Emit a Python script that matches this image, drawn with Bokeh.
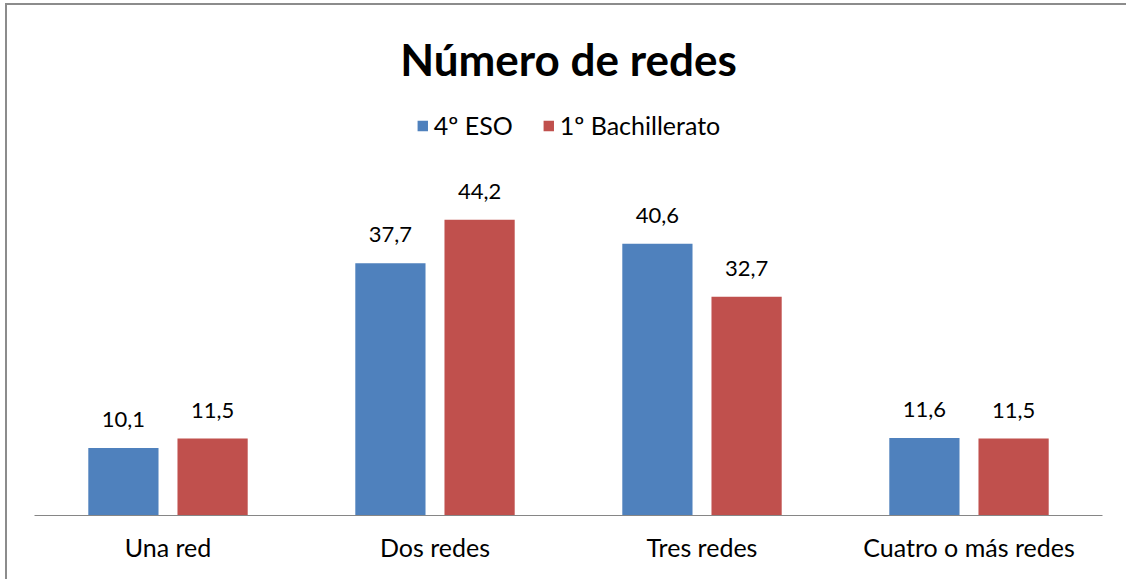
from bokeh.plotting import figure
from bokeh.models import ColumnDataSource, FactorRange, Range1d, Legend, LegendItem
from bokeh.transform import dodge
from bokeh.embed import file_html
from bokeh.resources import INLINE
from bokeh.core.properties import value

# ---- data ----
categories = ["Una red", "Dos redes", "Tres redes", "Cuatro o más redes"]
eso = [10.1, 37.7, 40.6, 11.6]
bach = [11.5, 44.2, 32.7, 11.5]
series_names = ["4º ESO", "1º Bachillerato"]
colors = ["#4F81BD", "#C0504D"]
title_text = "Número de redes"

FONT = "Lato"

def fmt(v):
    return f"{v:.1f}".replace(".", ",")

src = ColumnDataSource(dict(
    cat=categories,
    eso=eso,
    bach=bach,
    eso_lbl=[fmt(v) for v in eso],
    bach_lbl=[fmt(v) for v in bach],
))

# ---- layout (page pixels) ----
bx, by = 5, 3          # outer border position on page
bwid = 2
ox, oy = bx + bwid, by + bwid   # canvas origin on page
W, H = 1126 - ox, 579 - oy
frame_left, frame_right = 34, 1100
frame_top, frame_bottom = 109, 513
px_per_unit = 6.674

p = figure(
    width=W, height=H,
    x_range=FactorRange(*categories, range_padding=0),
    y_range=Range1d(0, (frame_bottom - frame_top) / px_per_unit),
    output_backend="svg", toolbar_location=None,
    min_border_left=frame_left - ox,
    min_border_right=ox + W - frame_right,
    min_border_top=frame_top - oy,
    min_border_bottom=oy + H - frame_bottom,
)
p.styles = {"margin-left": f"{bx}px", "margin-top": f"{by}px",
            "border-top": f"{bwid}px solid #8c8c8c",
            "border-left": f"{bwid}px solid #8c8c8c",
            "box-sizing": "content-box"}

p.title.text = title_text
p.title.align = "center"
p.title.text_font = FONT
p.title.text_font_style = "bold"
p.title.text_font_size = "44px"
p.title.text_color = "#000000"
p.title.standoff = 51

bw = 0.263
off = 0.167
r1 = p.vbar(x=dodge("cat", -off, range=p.x_range), top="eso", width=bw, source=src,
            fill_color=colors[0], line_color=None)
r2 = p.vbar(x=dodge("cat", off, range=p.x_range), top="bach", width=bw, source=src,
            fill_color=colors[1], line_color=None)

for col, top, o in (("eso_lbl", "eso", -off), ("bach_lbl", "bach", off)):
    p.text(x=dodge("cat", o, range=p.x_range), y=top, text=col, source=src,
           text_align="center", text_baseline="bottom", y_offset=-21,
           text_font=value(FONT), text_font_size="22px", text_color="#000000")

legend = Legend(items=[LegendItem(label=series_names[0], renderers=[r1]),
                       LegendItem(label=series_names[1], renderers=[r2])],
                location="top_center", orientation="horizontal")
legend.label_text_font = FONT
legend.label_text_font_size = "25px"
legend.label_text_color = "#000000"
legend.glyph_width = 13
legend.glyph_height = 13
legend.label_standoff = 5
legend.spacing = 29
legend.border_line_color = None
legend.background_fill_alpha = 0
legend.margin = 0
legend.padding = 5
p.add_layout(legend)

p.yaxis.visible = False
p.xaxis.axis_line_color = "#868686"
p.xaxis.major_tick_line_color = None
p.xaxis.minor_tick_line_color = None
p.xaxis.major_label_text_font = FONT
p.xaxis.major_label_text_font_size = "25px"
p.xaxis.major_label_text_color = "#000000"
p.xaxis.major_label_standoff = 10
p.xgrid.visible = False
p.ygrid.visible = False
p.outline_line_color = None

open("out.html", "w").write(file_html(p, INLINE))
